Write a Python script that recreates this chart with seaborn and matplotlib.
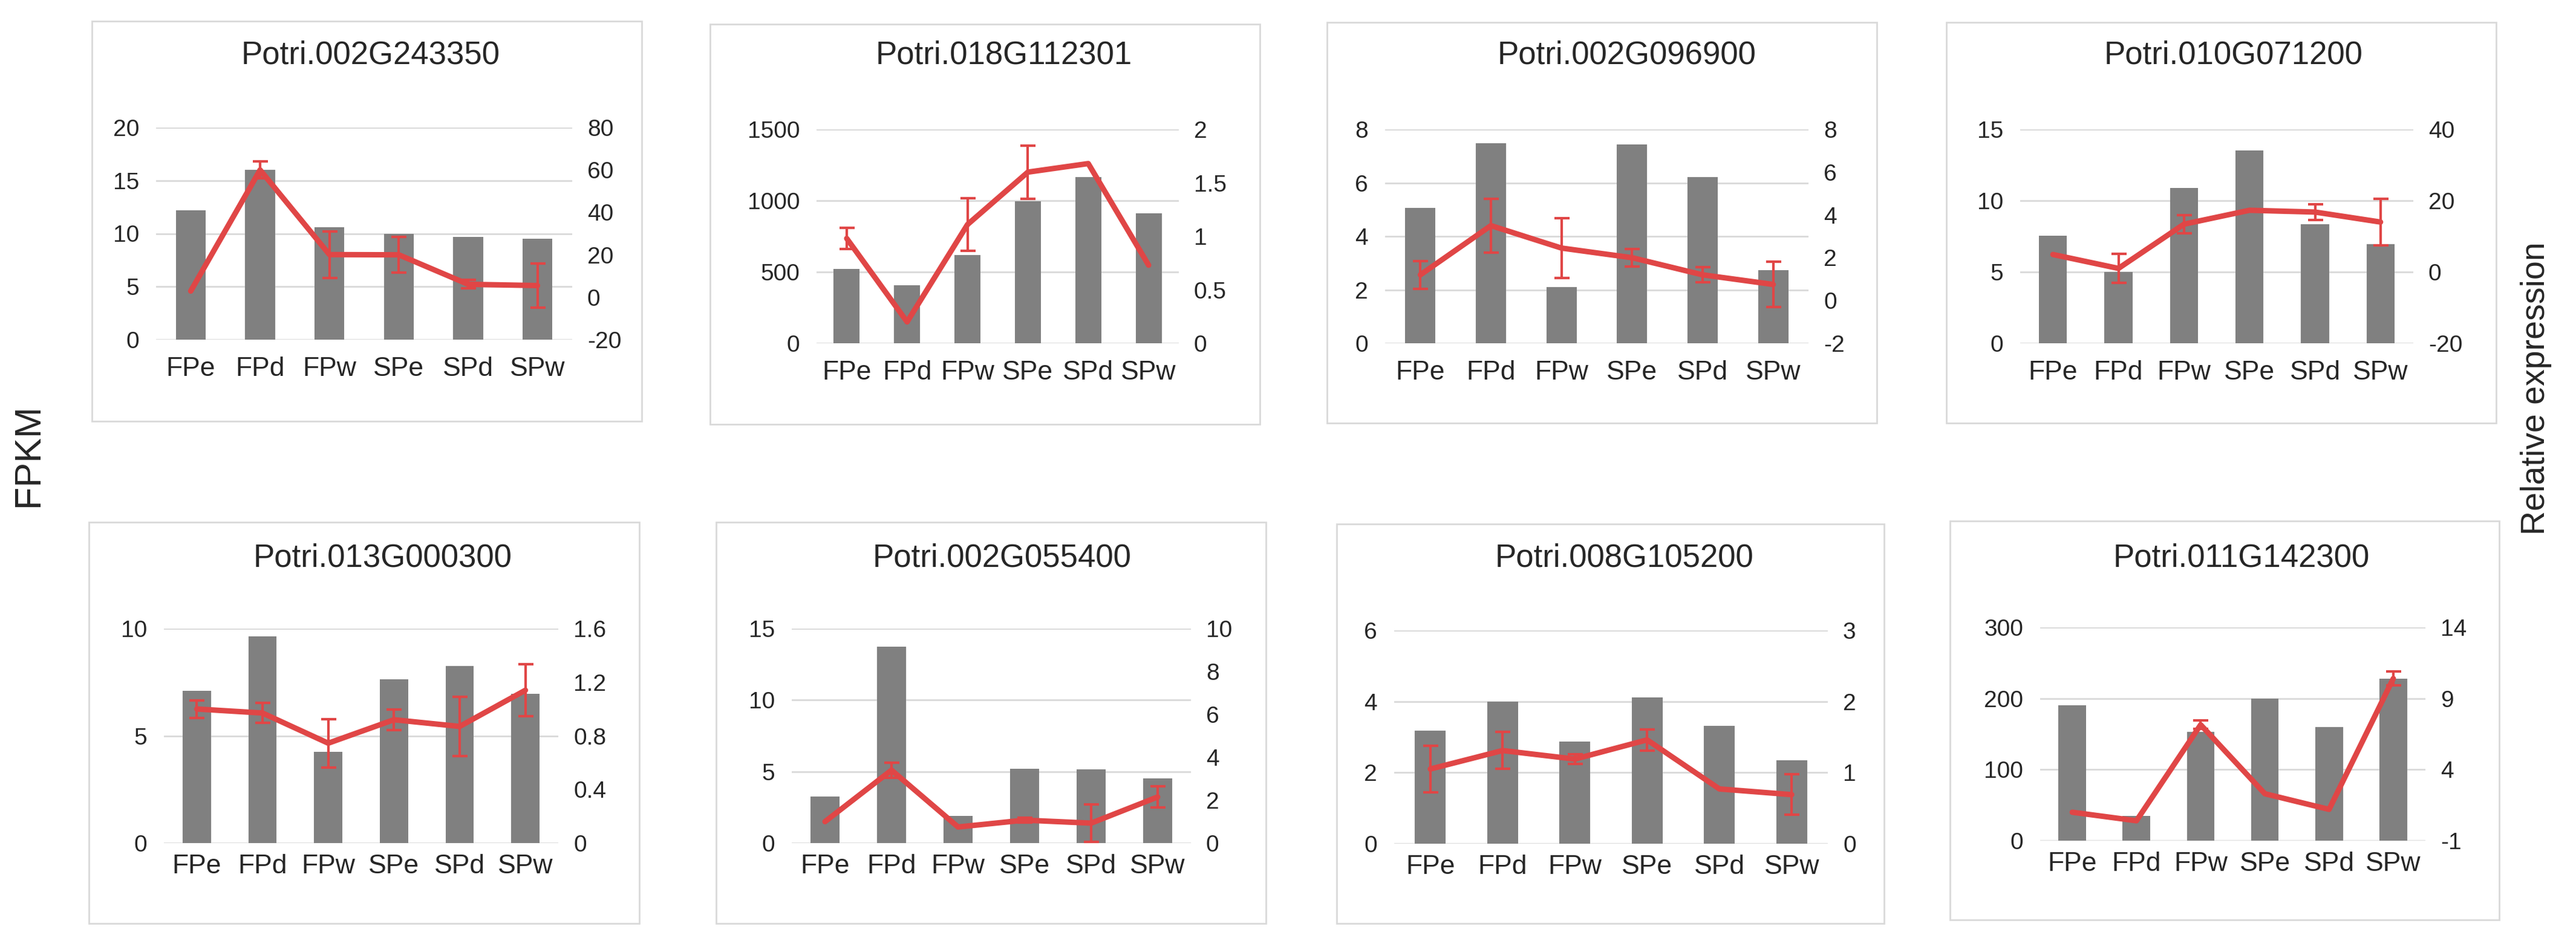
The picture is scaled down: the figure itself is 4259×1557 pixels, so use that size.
import numpy as np
import matplotlib
matplotlib.use("Agg")
import matplotlib.pyplot as plt
from matplotlib.patches import Rectangle
import seaborn as sns

sns.set_style("white")
plt.rcParams['font.family'] = ['Liberation Sans', 'DejaVu Sans']

cats = ["FPe", "FPd", "FPw", "SPe", "SPd", "SPw"]

genes = ["Potri.002G243350", "Potri.018G112301", "Potri.002G096900", "Potri.010G071200",
         "Potri.013G000300", "Potri.002G055400", "Potri.008G105200", "Potri.011G142300"]

fpkm_1 = [12.2, 16.0, 10.6, 10.0, 9.7, 9.5]
fpkm_2 = [521, 408, 618, 997, 1166, 913]
fpkm_3 = [5.06, 7.47, 2.1, 7.44, 6.22, 2.73]
fpkm_4 = [7.54, 5.0, 10.88, 13.52, 8.35, 6.96]
fpkm_5 = [7.09, 9.64, 4.26, 7.62, 8.24, 6.95]
fpkm_6 = [3.27, 13.75, 1.89, 5.2, 5.16, 4.51]
fpkm_7 = [3.17, 3.99, 2.87, 4.12, 3.32, 2.35]
fpkm_8 = [190, 34.5, 153, 200, 159.5, 228]

rel_1 = [2.9, 60.0, 20.1, 20.0, 6.1, 5.5]
rel_2 = [0.98, 0.2, 1.11, 1.6, 1.68, 0.73]
rel_3 = [1.2, 3.5, 2.45, 2.0, 1.2, 0.75]
rel_4 = [4.9, 1.0, 13.4, 17.3, 16.8, 14.0]
rel_5 = [1.0, 0.97, 0.745, 0.92, 0.87, 1.14]
rel_6 = [1.0, 3.4, 0.75, 1.07, 0.93, 2.15]
rel_7 = [1.05, 1.31, 1.19, 1.46, 0.77, 0.69]
rel_8 = [1.0, 0.4, 7.15, 2.3, 1.2, 10.4]

err_1 = [0, 4, 11, 8.5, 2, 10.5]
err_2 = [0.1, 0, 0.245, 0.25, 0, 0]
err_3 = [0.65, 1.25, 1.4, 0.4, 0.35, 1.05]
err_4 = [0, 4.1, 2.6, 0, 2.2, 6.5]
err_5 = [0.065, 0.075, 0.18, 0.077, 0.22, 0.195]
err_6 = [0, 0.35, 0, 0.1, 0.88, 0.5]
err_7 = [0.33, 0.26, 0.07, 0.15, 0, 0.285]
err_8 = [0, 0, 0.3, 0, 0, 0.5]

# left axis (max, step), right axis (min, max, step)
left_ax = [(20, 5), (1500, 500), (8, 2), (15, 5), (10, 5), (15, 5), (6, 2), (300, 100)]
right_ax = [(-20, 80, 20), (0, 2, 0.5), (-2, 8, 2), (-20, 40, 20),
            (0, 1.6, 0.4), (0, 10, 2), (0, 3, 1), (-1, 14, 5)]

fpkm = [fpkm_1, fpkm_2, fpkm_3, fpkm_4, fpkm_5, fpkm_6, fpkm_7, fpkm_8]
rel = [rel_1, rel_2, rel_3, rel_4, rel_5, rel_6, rel_7, rel_8]
err = [err_1, err_2, err_3, err_4, err_5, err_6, err_7, err_8]

W, H = 4259, 1557
# box (x0, y0, x1, y1), plot area (x0, y0, x1, y1), title centre (x, y), xlabel pad -- pixels
layout = [
    ((152, 35, 1061, 697), (258, 211, 946, 562), (613, 92), 20),
    ((1174, 40, 2083, 702), (1350, 214, 1949, 568), (1660, 92), 20),
    ((2194, 37, 3103, 700), (2290, 214, 2990, 568), (2690, 92), 20),
    ((3218, 37, 4127, 700), (3340, 214, 3990, 568), (3693, 92), 20),
    ((147, 864, 1057, 1528), (271, 1040, 923, 1395), (633, 923), 13),
    ((1184, 864, 2093, 1528), (1309, 1040, 1969, 1395), (1657, 923), 13),
    ((2210, 867, 3115, 1528), (2305, 1043, 3022, 1396), (2686, 923), 13),
    ((3224, 862, 4132, 1522), (3373, 1038, 4010, 1391), (3706, 923), 13),
]

red = "#E04646"
grey = "#808080"
light = "#D9D9D9"

fig = plt.figure(figsize=(W / 100, H / 100), dpi=100)


def frac(x0, y0, x1, y1):
    return [x0 / W, 1 - y1 / H, (x1 - x0) / W, (y1 - y0) / H]


for i in range(8):
    box, area, tpos, xpad = layout[i]
    fig.add_artist(Rectangle((box[0] / W, 1 - box[3] / H), (box[2] - box[0]) / W,
                             (box[3] - box[1]) / H, transform=fig.transFigure,
                             facecolor="none", edgecolor=light, lw=2))
    fig.text(tpos[0] / W, 1 - tpos[1] / H, genes[i], ha="center", va="center", fontsize=38)

    ax = fig.add_axes(frac(*area))
    sns.barplot(x=cats, y=fpkm[i], color=grey, saturation=1, width=0.43,
                linewidth=0, ax=ax)
    lmax, lstep = left_ax[i]
    ax.set_ylim(0, lmax)
    ax.set_yticks(np.arange(0, lmax + lstep / 2, lstep))
    ax.set_xlim(-0.5, 5.5)
    ax.set_axisbelow(True)
    ax.yaxis.grid(True, color=light, lw=2)
    ax.set_xlabel("")
    ax.set_ylabel("")
    ax.tick_params(axis="y", length=0, pad=20, labelsize=28)
    ax.tick_params(axis="x", length=0, pad=xpad, labelsize=32)
    sns.despine(ax=ax, left=True, bottom=True)

    ax2 = ax.twinx()
    rmin, rmax, rstep = right_ax[i]
    x = np.arange(len(cats))
    y = np.array(rel[i])
    e = np.array(err[i])
    ax2.plot(x, y, color=red, lw=6.5, solid_joinstyle="round", zorder=3)
    m = e > 0
    ax2.errorbar(x[m], y[m], yerr=e[m], fmt="none", ecolor=red, elinewidth=3,
                 capsize=9, capthick=3, zorder=3)
    ax2.set_ylim(rmin, rmax)
    rt = np.round(np.arange(rmin, rmax + rstep / 2, rstep), 3)
    ax2.set_yticks(rt)
    ax2.set_yticklabels([f"{v:g}" for v in rt])
    ax2.tick_params(axis="y", length=0, pad=18, labelsize=28)
    for s in ax2.spines.values():
        s.set_visible(False)
    ax2.grid(False)

fig.text(48 / W, 1 - 753 / H, "FPKM", rotation=90, ha="center", va="center", fontsize=44)
fig.text(4193 / W, 1 - 643 / H, "Relative expression", rotation=90, ha="center",
         va="center", fontsize=40)

fig.savefig("out.png", dpi=100, facecolor="white")
